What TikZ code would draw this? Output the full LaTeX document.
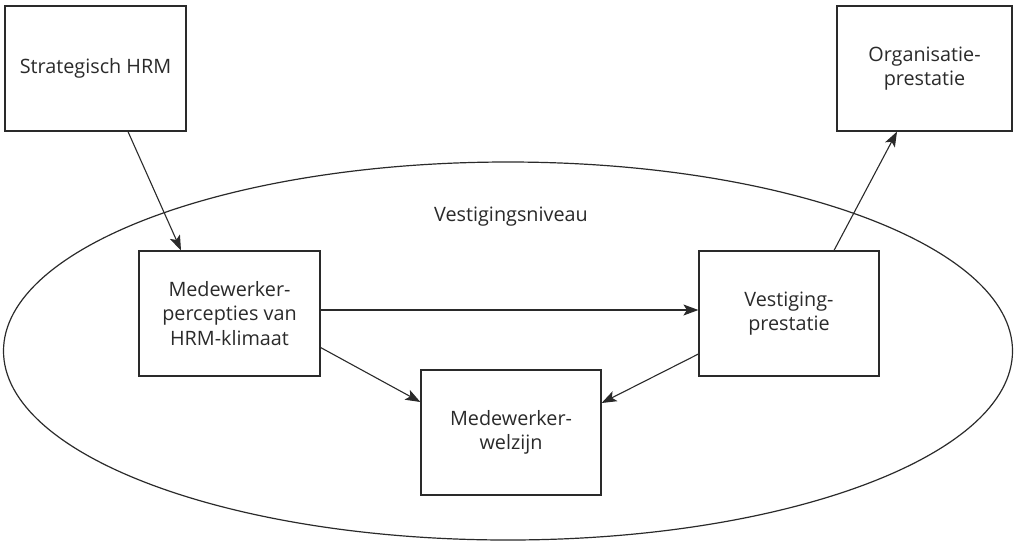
\documentclass[tikz,border=0pt]{standalone}
\usepackage{fontspec}
\setmainfont{Open Sans}
\usetikzlibrary{shapes.geometric,arrows.meta}
\definecolor{ink}{HTML}{2A2A2A}
\begin{document}
\begin{tikzpicture}[x=1pt,y=-1pt,
  box/.style={draw=ink,line width=1.2pt,minimum width=#1,minimum height=125pt,inner sep=0pt,
    align=center,text=ink,font=\fontsize{19.8}{24.5}\selectfont},
  box/.default=181pt,
  conn/.style={draw=ink,line width=1.1pt,-{Stealth[length=15pt,width=11pt,inset=3.5pt]}}]
\useasboundingbox (0,0) rectangle (1014,542);
\node[ellipse,draw=ink,line width=1.2pt,minimum width=1009pt,minimum height=378pt,inner sep=0pt] (lvl) at (508,351) {};
\node[text=ink,font=\fontsize{19.8}{24.5}\selectfont] (lvltxt) at (511,217) {Vestigingsniveau};
\node[box] (shrm) at (95.5,68.5) {Strategisch HRM};
\node[box=175pt] (org) at (924.5,68.5) {\raisebox{0pt}[\height][\depth]{Organisatie-}\\prestatie};
\node[box] (perc) at (229.5,313.5) {Medewerker-\\percepties van\\HRM-klimaat};
\node[box=180pt] (vest) at (789,313.5) {Vestiging-\\prestatie};
\node[box=180pt] (welz) at (511,432.5) {Medewerker-\\welzijn};
\draw[conn] ([xshift=32.5pt]shrm.south) -- ([xshift=-48.5pt]perc.north);
\draw[conn] ([yshift=3.5pt]perc.east) -- ([yshift=3.5pt]vest.west);
\draw[conn] ([yshift=-34pt]perc.east) -- ([yshift=30.5pt]welz.west);
\draw[conn] ([yshift=-40.5pt]vest.west) -- ([yshift=29.5pt]welz.east);
\draw[conn] ([xshift=45pt]vest.north) -- ([xshift=-27.5pt]org.south);
\end{tikzpicture}
\end{document}
